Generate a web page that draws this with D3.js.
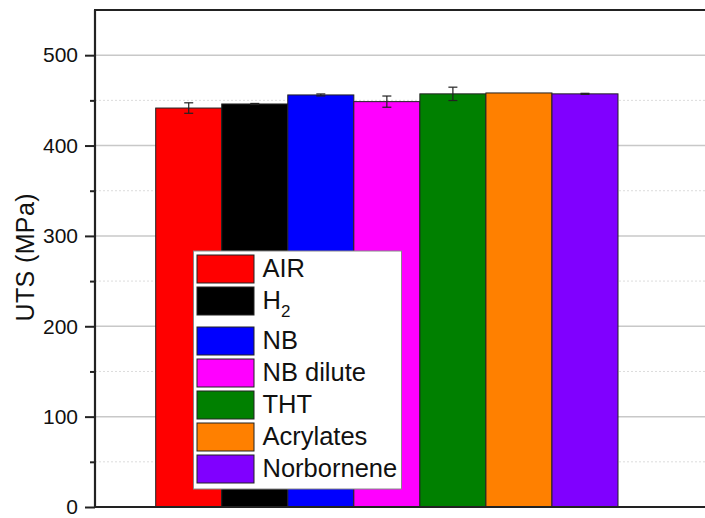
<!DOCTYPE html>
<html>
<head>
<meta charset="utf-8">
<script src="https://cdn.jsdelivr.net/npm/d3@7"></script>
<style>
  html, body { margin: 0; padding: 0; background: #fff; overflow: hidden; }
  svg { display: block; font-family: "Liberation Sans", Arial, sans-serif; }
</style>
</head>
<body>
<div id="chart"></div>
<script>
// data
var categories = ["AIR", "H2", "NB", "NB dilute", "THT", "Acrylates", "Norbornene"];
var uts = [441.5, 446, 456, 448.6, 457.2, 458.2, 457.2];
var utsErr = [5.8, 0.6, 1.1, 6.2, 7.4, 0, 0.6];
var yTicks = [0, 100, 200, 300, 400, 500];
var yMinor = [50, 150, 250, 350, 450];

var colors = ["#ff0000", "#000000", "#0000ff", "#ff00ff", "#008000", "#ff8000", "#8000ff"];

var W = 705, H = 518;
var svg = d3.select("#chart").append("svg")
    .attr("width", W)
    .attr("height", H);

var plotL = 95, plotT = 10, plotB = 507, plotR = 705;

var y = d3.scaleLinear().domain([0, 550]).range([plotB, plotT]);
var x = d3.scaleBand().domain(categories).range([155.7, 618]).padding(0);

// grid
svg.append("g").selectAll("line").data(yTicks.filter(function (d) { return d > 0; }))
  .enter().append("line")
    .attr("x1", plotL).attr("x2", W)
    .attr("y1", function (d) { return y(d); }).attr("y2", function (d) { return y(d); })
    .attr("stroke", "#c8c8c8").attr("stroke-width", 1.5);
svg.append("g").selectAll("line").data(yMinor)
  .enter().append("line")
    .attr("x1", plotL).attr("x2", W)
    .attr("y1", function (d) { return y(d); }).attr("y2", function (d) { return y(d); })
    .attr("stroke", "#dcdcdc").attr("stroke-width", 1)
    .attr("stroke-dasharray", "2,2");

// bars
svg.append("g").selectAll("rect").data(categories)
  .enter().append("rect")
    .attr("x", function (d) { return x(d); })
    .attr("y", function (d, i) { return y(uts[i]); })
    .attr("width", x.bandwidth())
    .attr("height", function (d, i) { return y(0) - y(uts[i]); })
    .attr("fill", function (d, i) { return colors[i]; })
    .attr("stroke", "#222").attr("stroke-width", 1);

// error bars
var eb = svg.append("g").selectAll("g").data(categories)
  .enter().append("g")
    .attr("stroke", "#222").attr("stroke-width", 1.2);
eb.filter(function (d, i) { return utsErr[i] > 0; }).each(function (d) {
  var g = d3.select(this);
  var k = categories.indexOf(d);
  var cx = x(d) + x.bandwidth() / 2;
  var hi = y(uts[k] + utsErr[k]), lo = y(uts[k] - utsErr[k]);
  g.append("line").attr("x1", cx).attr("x2", cx).attr("y1", hi).attr("y2", lo);
  g.append("line").attr("x1", cx - 4.5).attr("x2", cx + 4.5).attr("y1", hi).attr("y2", hi);
  g.append("line").attr("x1", cx - 4.5).attr("x2", cx + 4.5).attr("y1", lo).attr("y2", lo);
});

// y axis
var yAxis = d3.axisLeft(y).tickValues(yTicks).tickSize(10).tickPadding(7).tickFormat(d3.format("d"));
var ya = svg.append("g").attr("transform", "translate(" + plotL + ",0)").call(yAxis);
ya.select(".domain").remove();
ya.selectAll(".tick line").attr("stroke", "#222").attr("stroke-width", 2);
ya.selectAll(".tick text").attr("font-size", 21).attr("fill", "#111")
  .style("font-family", "Liberation Sans, Arial, sans-serif");
var yAxisMinor = d3.axisLeft(y).tickValues(yMinor).tickSize(5).tickFormat("");
var ym = svg.append("g").attr("transform", "translate(" + plotL + ",0)").call(yAxisMinor);
ym.select(".domain").remove();
ym.selectAll(".tick line").attr("stroke", "#222").attr("stroke-width", 2);

// frame
svg.append("line").attr("x1", plotL).attr("x2", plotL).attr("y1", plotT).attr("y2", plotB + 1)
  .attr("stroke", "#222").attr("stroke-width", 2.2);
svg.append("line").attr("x1", plotL - 1).attr("x2", plotR).attr("y1", plotB).attr("y2", plotB)
  .attr("stroke", "#222").attr("stroke-width", 2.2);
svg.append("line").attr("x1", plotL - 1).attr("x2", plotR).attr("y1", plotT).attr("y2", plotT)
  .attr("stroke", "#222").attr("stroke-width", 2.2);

// y label
svg.append("text")
  .attr("transform", "translate(33.5," + 257.5 + ") rotate(-90)")
  .attr("text-anchor", "middle")
  .attr("font-size", 25)
  .attr("textLength", 128)
  .attr("fill", "#111")
  .text("UTS (MPa)");

// legend
var lgX = 193.5, lgY = 251, lgW = 208, rowH = 32, subExtra = 8;
var rows = [], cy = lgY + 4;
categories.forEach(function (c, i) {
  var m = c.match(/^([A-Za-z]+)(\d+)$/);
  rows.push({ name: c, base: m ? m[1] : c, sub: m ? m[2] : null, y: cy, i: i });
  cy += rowH + (m ? subExtra : 0);
});
var lgH = cy - lgY + 2;
var lg = svg.append("g");
lg.append("rect").attr("x", lgX).attr("y", lgY).attr("width", lgW).attr("height", lgH)
  .attr("fill", "#fff").attr("stroke", "#888").attr("stroke-width", 1);
var row = lg.selectAll("g.row").data(rows).enter().append("g").attr("class", "row");
row.append("rect")
  .attr("x", lgX + 3.5).attr("y", function (d) { return d.y; })
  .attr("width", 57).attr("height", 28)
  .attr("fill", function (d) { return colors[d.i]; })
  .attr("stroke", "#222").attr("stroke-width", 1);
var lt = row.append("text")
  .attr("x", lgX + 69).attr("y", function (d) { return d.y + 22; })
  .attr("font-size", 25.5).attr("fill", "#111");
lt.append("tspan").text(function (d) { return d.base; });
lt.filter(function (d) { return d.sub; }).append("tspan")
  .attr("dy", 8).attr("font-size", 17).text(function (d) { return d.sub; });
</script>
</body>
</html>
